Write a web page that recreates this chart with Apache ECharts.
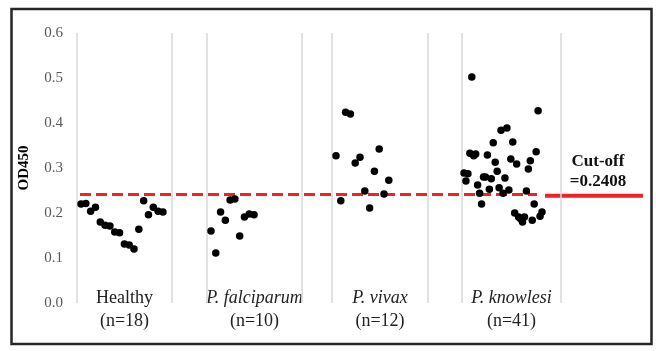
<!DOCTYPE html>
<html>
<head>
<meta charset="utf-8">
<script src="https://cdn.jsdelivr.net/npm/echarts@6/dist/echarts.min.js"></script>
<style>
html,body{margin:0;padding:0;background:#fff;}
#main{width:656px;height:351px;}
</style>
</head>
<body>
<div id="main"></div>
<script>
// ---- data ----
const categories = ['Healthy', 'P. falciparum', 'P. vivax', 'P. knowlesi'];
const italicCategory = [false, true, true, true];
const healthy = [0.220,0.221,0.204,0.213,0.180,0.173,0.171,0.158,0.156,0.131,0.129,0.120,0.164,0.227,0.196,0.213,0.204,0.202];
const falciparum = [0.160,0.111,0.202,0.184,0.229,0.231,0.149,0.191,0.198,0.196];
const vivax = [0.327,0.227,0.424,0.420,0.311,0.324,0.249,0.211,0.293,0.342,0.242,0.273];
const knowlesi = [0.289,0.271,0.287,0.333,0.502,0.327,0.331,0.262,0.244,0.220,0.280,0.280,0.329,0.253,0.276,0.356,0.313,0.293,0.256,0.384,0.244,0.278,0.389,0.251,0.320,0.358,0.200,0.309,0.191,0.187,0.180,0.191,0.249,0.298,0.316,0.184,0.220,0.336,0.427,0.193,0.202];
const cutoff = 0.2408;
const yTickMin = 0, yTickMax = 0.6, yTickStep = 0.1;
const yAxisTitle = 'OD450';
const cutoffLabel = ['Cut-off', '=' + cutoff.toFixed(4)];

// ---- layout (x-axis units) ----
const groupsData = [healthy, falciparum, vivax, knowlesi];
const groupBounds = [[0,95],[130,225],[255,351],[385,484]];
const groupFirst = [4, 134, 259, 387];
const groupStep = [4.82, 4.78, 4.8, 1.95];

const chart = echarts.init(document.getElementById('main'));
const serif = '"Liberation Serif", "Times New Roman", serif';
const red = '#ee2326';

const series = groupsData.map((arr, g) => ({
  type: 'scatter',
  symbol: 'circle',
  symbolSize: 7.5,
  itemStyle: { color: '#000', opacity: 1 },
  z: 5,
  data: arr.map((v, i) => [groupFirst[g] + i * groupStep[g], v])
}));

// vertical separators
const vLines = [];
groupBounds.forEach(b => b.forEach(x => vLines.push([{coord:[x, yTickMin]}, {coord:[x, yTickMax]}])));
series.push({
  type: 'scatter', data: [], silent: true,
  markLine: {
    silent: true, symbol: 'none', animation: false,
    label: { show: false },
    emphasis: { disabled: true },
    lineStyle: { color: '#d9d9d9', width: 1.5, type: 'solid', opacity: 1 },
    data: vLines
  }
});
// cutoff dashed line
series.push({
  type: 'scatter', data: [], silent: true,
  markLine: {
    silent: true, symbol: 'none', animation: false, z: 4,
    label: { show: false },
    emphasis: { disabled: true },
    lineStyle: { color: red, width: 3, type: [11, 5], opacity: 1 },
    data: [[{coord:[3, cutoff]}, {coord:[460, cutoff]}]]
  }
});

chart.setOption({
  animation: false,
  grid: { left: 77, top: 33, width: 484, height: 270, containLabel: false },
  xAxis: {
    type: 'value', min: 0, max: 484, show: false
  },
  yAxis: {
    type: 'value', min: yTickMin, max: yTickMax, interval: yTickStep,
    name: yAxisTitle, nameLocation: 'middle', nameRotate: 90, nameGap: 45,
    nameTextStyle: { fontFamily: serif, fontWeight: 'bold', fontSize: 15, color: '#000' },
    axisLine: { show: false }, axisTick: { show: false }, splitLine: { show: false },
    axisLabel: { fontFamily: serif, fontSize: 15, color: '#595959', margin: 14,
      formatter: v => v.toFixed(1) }
  },
  series: series
});

// annotations
const graphics = [];
graphics.push({
  type: 'rect', silent: true,
  shape: { x: 11.5, y: 9, width: 640, height: 335 },
  style: { fill: 'none', stroke: '#262626', lineWidth: 2.5 }
});
groupBounds.forEach((b, g) => {
  const c = chart.convertToPixel({gridIndex: 0}, [(b[0] + b[1]) / 2, 0]);
  graphics.push({
    type: 'text', silent: true, x: c[0], y: 298,
    style: { text: categories[g], fontFamily: serif, fontSize: 18,
      fontStyle: italicCategory[g] ? 'italic' : 'normal', fill: '#222',
      align: 'center', verticalAlign: 'middle' }
  });
  graphics.push({
    type: 'text', silent: true, x: c[0], y: 321,
    style: { text: '(n=' + groupsData[g].length + ')', fontFamily: serif, fontSize: 18,
      fill: '#222', align: 'center', verticalAlign: 'middle' }
  });
});
const cy = chart.convertToPixel({gridIndex: 0}, [0, cutoff])[1];
graphics.push({
  type: 'line', silent: true,
  shape: { x1: 545, y1: cy + 1, x2: 643, y2: cy + 1 },
  style: { stroke: red, lineWidth: 4 }
});
graphics.push({
  type: 'text', silent: true, x: 598, y: 162,
  style: { text: cutoffLabel[0], fontFamily: serif, fontSize: 17, fontWeight: 'bold',
    fill: '#111', align: 'center', verticalAlign: 'middle' }
});
graphics.push({
  type: 'text', silent: true, x: 598, y: 182,
  style: { text: cutoffLabel[1], fontFamily: serif, fontSize: 17, fontWeight: 'bold',
    fill: '#111', align: 'center', verticalAlign: 'middle' }
});
chart.setOption({ graphic: graphics });
</script>
</body>
</html>
